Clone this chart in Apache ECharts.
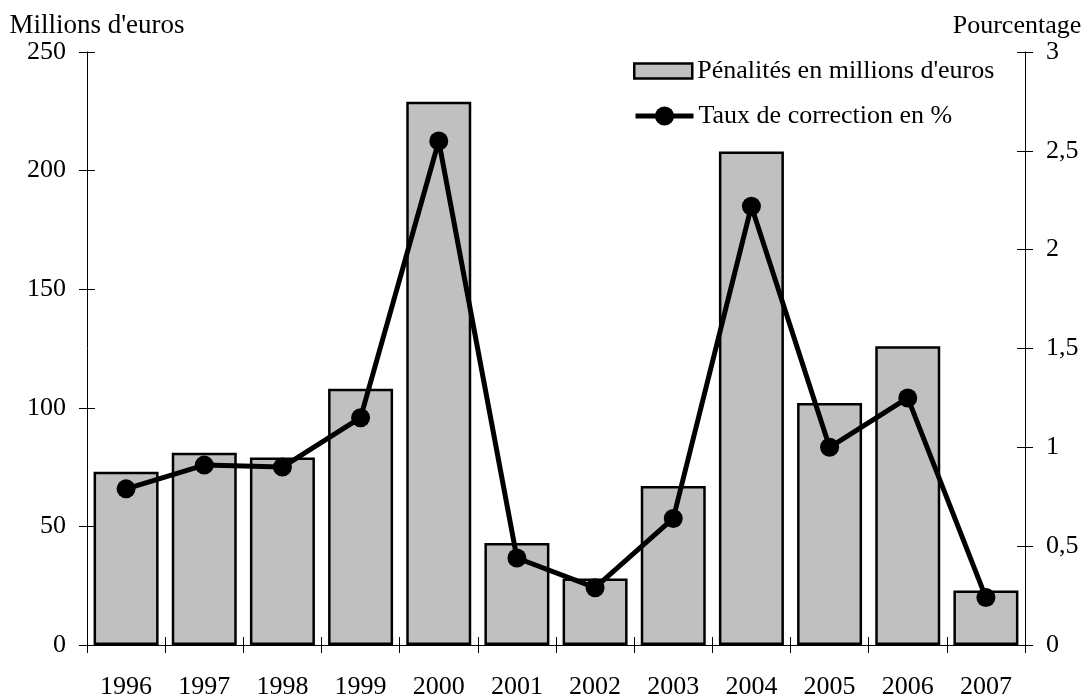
<!DOCTYPE html>
<html>
<head>
<meta charset="utf-8">
<script src="https://cdn.jsdelivr.net/npm/echarts@6/dist/echarts.min.js"></script>
<style>
  html, body { margin: 0; padding: 0; background: #fff; }
  #chart { width: 1085px; height: 695px; }
</style>
</head>
<body>
<div id="chart"></div>
<script>
var years = ['1996','1997','1998','1999','2000','2001','2002','2003','2004','2005','2006','2007'];
// pénalités (millions d'euros)
var penalites = [73, 81, 79, 108, 229, 43, 28, 67, 208, 102, 126, 23];
// taux de correction (%)
var taux = [0.79, 0.91, 0.90, 1.15, 2.55, 0.44, 0.29, 0.64, 2.22, 1.00, 1.25, 0.24];

var font = "'Liberation Serif', 'Times New Roman', serif";
var fs = 26;

function fr(v) { return String(v).replace('.', ','); }

var chart = echarts.init(document.getElementById('chart'));

// axe gauche / droit + copies pour les graduations intérieures
var leftAxis = {
  type: 'value', min: 0, max: 250, interval: 50, position: 'left',
  name: "Millions d'euros", nameLocation: 'end', nameGap: 9,
  nameTextStyle: { fontFamily: font, fontSize: 27, color: '#000', align: 'center', padding: [0, 0, 0, 20] },
  axisLine: { show: true, lineStyle: { color: '#000', width: 1 } },
  axisTick: { show: true, length: 8, lineStyle: { color: '#000' } },
  axisLabel: { fontFamily: font, fontSize: fs, color: '#000', margin: 21 },
  splitLine: { show: false }
};
var rightAxis = {
  type: 'value', min: 0, max: 3, interval: 0.5, position: 'right',
  name: 'Pourcentage', nameLocation: 'end', nameGap: 9,
  nameTextStyle: { fontFamily: font, fontSize: 26, color: '#000', align: 'center', padding: [0, 16, 0, 0] },
  axisLine: { show: true, lineStyle: { color: '#000', width: 1 } },
  axisTick: { show: true, length: 8, lineStyle: { color: '#000' } },
  axisLabel: { fontFamily: font, fontSize: fs, color: '#000', margin: 21, formatter: fr },
  splitLine: { show: false }
};
function innerTicks(base) {
  return {
    type: 'value', min: base.min, max: base.max, interval: base.interval, position: base.position,
    axisLine: { show: false },
    axisTick: { show: true, inside: true, length: 8, lineStyle: { color: '#000' } },
    axisLabel: { show: false },
    splitLine: { show: false }
  };
}

chart.setOption({
  animation: false,
  textStyle: { fontFamily: font },
  grid: { left: 87, right: 60, top: 52, bottom: 50, containLabel: false, outerBoundsMode: 'none' },
  legend: [{
    orient: 'vertical', left: 633, top: 58, padding: 0,
    itemWidth: 58, itemHeight: 15,
    icon: 'rect',
    itemStyle: { color: '#c0c0c0', borderColor: '#000', borderWidth: 2.5 },
    textStyle: { fontFamily: font, fontSize: fs, color: '#000' },
    data: [{ name: "Pénalités en millions d'euros" }]
  }, {
    orient: 'vertical', left: 633, top: 103, padding: 0,
    itemWidth: 58, itemHeight: 24,
    lineStyle: { width: 5, color: '#000' },
    textStyle: { fontFamily: font, fontSize: fs, color: '#000' },
    data: [{ name: 'Taux de correction en %' }]
  }],
  xAxis: [{
    type: 'category', data: years,
    axisLine: { show: true, lineStyle: { color: '#000', width: 1 } },
    axisTick: { show: true, length: 8, alignWithLabel: false, lineStyle: { color: '#000' } },
    axisLabel: { fontFamily: font, fontSize: fs, color: '#000', margin: 29 },
    splitLine: { show: false }
  }, {
    type: 'category', data: years, position: 'bottom',
    axisLine: { show: false },
    axisTick: { show: true, inside: true, length: 8, lineStyle: { color: '#000' } },
    axisLabel: { show: false }
  }],
  yAxis: [leftAxis, rightAxis, innerTicks(leftAxis), innerTicks(rightAxis)],
  series: [{
    name: "Pénalités en millions d'euros",
    type: 'bar', data: penalites, yAxisIndex: 0,
    barWidth: 65,
    itemStyle: { color: '#c0c0c0', borderColor: '#000', borderWidth: 2.5 }
  }, {
    name: 'Taux de correction en %',
    type: 'line', data: taux, yAxisIndex: 1,
    symbol: 'circle', symbolSize: 19,
    lineStyle: { color: '#000', width: 5 },
    itemStyle: { color: '#000' }
  }]
});
</script>
</body>
</html>
